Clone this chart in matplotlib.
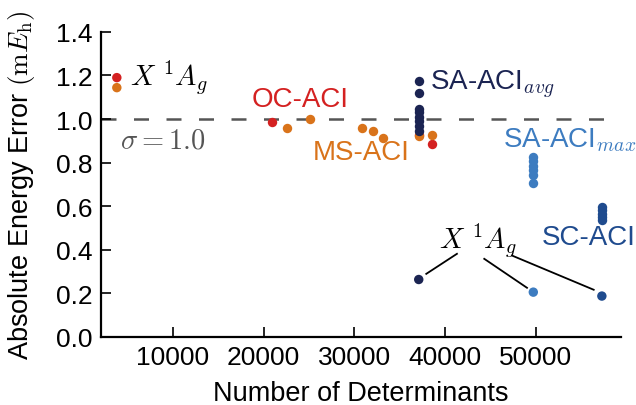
import matplotlib
matplotlib.use("Agg")
import matplotlib.pyplot as plt

plt.rcParams['font.family'] = ['Liberation Sans', 'DejaVu Sans']
plt.rcParams['mathtext.fontset'] = 'cm'

# ground-state (X 1Ag) errors, top-left corner
gs_ndet = [3830, 3830]
gs_err = [1.19, 1.144]
gs_colors = ['#d42121', '#d9731a']

# OC-ACI
oc_ndet = [20915, 37100, 38555]
oc_err = [0.985, 0.925, 0.885]

# MS-ACI
ms_ndet = [22570, 25105, 30900, 32050, 33150, 37100, 38555]
ms_err = [0.959, 1.0, 0.959, 0.946, 0.913, 0.923, 0.928]

# SA-ACI (averaged)
sa_avg_ndet = [37100] * 8
sa_avg_err = [1.173, 1.119, 1.046, 1.03, 1.01, 0.99, 0.97, 0.946]

# SA-ACI (max)
sa_max_ndet = [49725] * 6
sa_max_err = [0.824, 0.805, 0.785, 0.765, 0.745, 0.705]

# SC-ACI
sc_ndet = [57280] * 5
sc_err = [0.595, 0.58, 0.565, 0.55, 0.534]

# X 1Ag state for the three state-averaged schemes
x_ndet = [37100, 49725, 57280]
x_err = [0.263, 0.205, 0.187]
x_colors = ['#1b2452', '#3d7cc0', '#1f4b8e']

sigma = 1.0

RED = '#d42121'
ORANGE = '#d9731a'
NAVY = '#1b2452'
LBLUE = '#3d7cc0'
DBLUE = '#1f4b8e'

fig = plt.figure(figsize=(6.36, 4.06), dpi=100)
ax = fig.add_axes([0.159, 0.168, 0.818, 0.751])

ms = 46
ax.axhline(sigma, color='#555555', lw=1.8, dashes=(6, 7), zorder=1)
ax.scatter(oc_ndet, oc_err, s=ms, color=RED, zorder=3, lw=0)
ax.scatter(ms_ndet, ms_err, s=ms, color=ORANGE, zorder=3, lw=0)
ax.scatter(sa_avg_ndet, sa_avg_err, s=ms, color=NAVY, zorder=4, lw=0)
ax.scatter(sa_max_ndet, sa_max_err, s=ms, color=LBLUE, zorder=4, lw=0)
ax.scatter(sc_ndet, sc_err, s=ms, color=DBLUE, zorder=4, lw=0)
ax.scatter(gs_ndet, gs_err, s=ms, color=gs_colors, zorder=4, lw=0)
ax.scatter(x_ndet, x_err, s=ms, color=x_colors, zorder=4, lw=0)

# leader lines from the X 1Ag label to its points
ax.plot([41310, 37930], [0.381, 0.289], color='k', lw=1.3)
ax.plot([44320, 49030], [0.358, 0.225], color='k', lw=1.3)
ax.plot([47380, 56380], [0.373, 0.216], color='k', lw=1.3)

fs = 20
mfs = 20.5
ax.text(5290, 1.19, r'$X\ ^1A_g$', fontsize=mfs, va='center', ha='left')
ax.text(4190, 0.90, r'$\sigma = 1.0$', fontsize=mfs, va='center',
        ha='left', color='#555555')
ax.text(18710, 1.09, 'OC-ACI', fontsize=fs, color=RED, va='center')
ax.text(25470, 0.849, 'MS-ACI', fontsize=fs, color=ORANGE, va='center')
ax.text(38370, 1.16, r'SA-ACI$_{avg}$', fontsize=fs, color=NAVY,
        va='center')
ax.text(46420, 0.908, r'SA-ACI$_{max}$', fontsize=fs, color=LBLUE,
        va='center')
ax.text(50680, 0.459, 'SC-ACI', fontsize=fs, color=DBLUE, va='center')
ax.text(39280, 0.445, r'$X\ ^1A_g$', fontsize=mfs, va='center', ha='left')

ax.set_xlim(2100, 59430)
ax.set_ylim(0, 1.4)
ax.set_xticks([10000, 20000, 30000, 40000, 50000])
ax.set_yticks([0.0, 0.2, 0.4, 0.6, 0.8, 1.0, 1.2, 1.4])
ax.set_yticklabels(['0.0', '0.2', '0.4', '0.6', '0.8', '1.0', '1.2', '1.4'])
ax.tick_params(direction='in', length=7, width=1.2, labelsize=19,
               colors='k')
ax.tick_params(axis='y', pad=6)
ax.tick_params(axis='x', pad=6)
for side in ['top', 'right']:
    ax.spines[side].set_visible(False)
for side in ['left', 'bottom']:
    ax.spines[side].set_linewidth(1.6)

ax.set_xlabel('Number of Determinants', fontsize=19.5, labelpad=8)
ax.set_ylabel(r'Absolute Energy Error $(\mathrm{m}E_\mathrm{h})$',
              fontsize=19.5, labelpad=14)

fig.savefig('out.png', dpi=100)
